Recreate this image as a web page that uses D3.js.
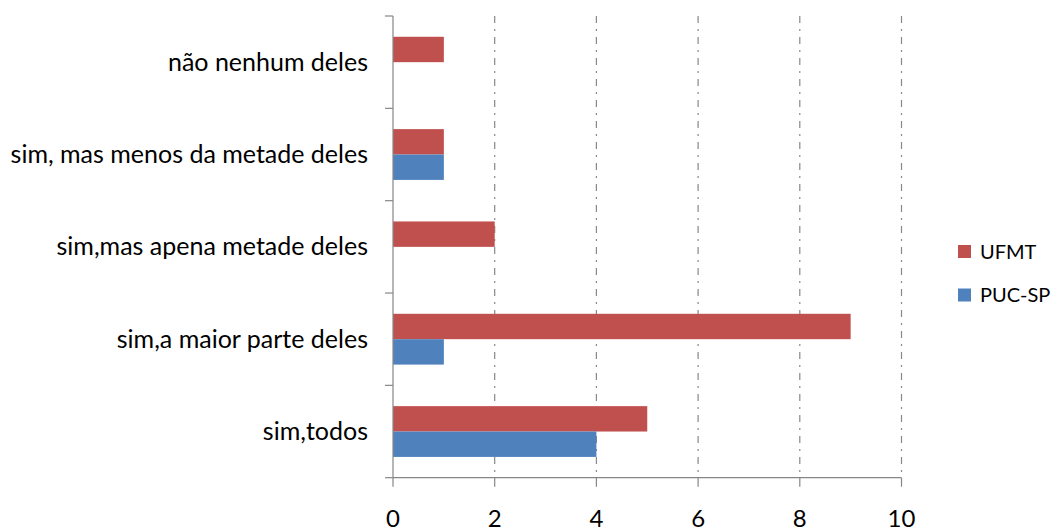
<!DOCTYPE html>
<html><head><meta charset="utf-8">
<script src="https://cdn.jsdelivr.net/npm/d3@7"></script>
<style>body{margin:0;background:#fff}svg{display:block}text{font-family:Lato,"Open Sans",sans-serif;fill:#000}</style>
</head><body><svg id="c" width="1059" height="532"></svg>
<script>
const categories = ["sim,todos","sim,a maior parte deles","sim,mas apena metade deles","sim, mas menos da metade deles","não nenhum deles"];
const seriesNames = ["UFMT","PUC-SP"];
const ufmt = [5,9,2,1,1];
const pucsp = [4,1,0,1,0];
const xTicks = [0,2,4,6,8,10];
const colors = {"UFMT":"#C0504D","PUC-SP":"#4F81BD"};

const svg = d3.select("#c");
const L=393, R=901.5, T=16, B=477.7;
const x = d3.scaleLinear().domain([0,10]).range([L,R]);
const y = d3.scaleBand().domain(categories).range([B,T]).padding(0);
const bw = y.bandwidth();
const inner = d3.scaleBand().domain(seriesNames).range([bw*0.225, bw*0.775]).padding(0);

// gridlines
svg.append("g").selectAll("line").data(xTicks.filter(d=>d>0)).join("line")
 .attr("x1",d=>x(d)).attr("x2",d=>x(d)).attr("y1",T).attr("y2",B)
 .attr("stroke","#888").attr("stroke-width",1.2).attr("stroke-dasharray","7,6,2,6");

const data = seriesNames.map(s=>({name:s, vals: s==="UFMT"?ufmt:pucsp}));
data.forEach(s=>{
  svg.append("g").selectAll("rect").data(categories.map((c,i)=>({c,v:s.vals[i]}))).join("rect")
   .attr("x",x(0)).attr("y",d=>y(d.c)+inner(s.name)).attr("height",inner.bandwidth())
   .attr("width",d=>x(d.v)-x(0)).attr("fill",colors[s.name]);
});

// y axis
const ya = svg.append("g");
ya.append("line").attr("x1",L).attr("x2",L).attr("y1",T).attr("y2",B).attr("stroke","#868686").attr("stroke-width",1.2);
const yt = d3.range(categories.length+1).map(i=>T+i*bw);
ya.selectAll("line.t").data(yt).join("line").attr("class","t")
 .attr("x1",L-8).attr("x2",L).attr("y1",d=>d).attr("y2",d=>d).attr("stroke","#868686").attr("stroke-width",1.2);
ya.selectAll("text").data(categories).join("text")
 .attr("x",368).attr("y",d=>y(d)+bw/2+8.5).attr("text-anchor","end")
 .style("font-size","25px").text(d=>d);

// x axis
const xa = svg.append("g").attr("transform",`translate(0,${B})`);
xa.append("line").attr("x1",L).attr("x2",R).attr("stroke","#868686").attr("stroke-width",1.2);
xa.selectAll("line.t").data(xTicks).join("line").attr("class","t")
 .attr("x1",d=>x(d)).attr("x2",d=>x(d)).attr("y1",0).attr("y2",9).attr("stroke","#868686").attr("stroke-width",1.2);
xa.selectAll("text").data(xTicks).join("text")
 .attr("x",d=>x(d)).attr("y",527-B).attr("text-anchor","middle")
 .style("font-size","24px").text(d=>d);

// legend
const lg = svg.append("g");
seriesNames.forEach((s,i)=>{
  const cy = 251.5 + i*43.5;
  lg.append("rect").attr("x",958).attr("y",cy-6.5).attr("width",13).attr("height",13).attr("fill",colors[s]);
  lg.append("text").attr("x",980).attr("y",cy+7).style("font-size","20px").text(s);
});
</script></body></html>
